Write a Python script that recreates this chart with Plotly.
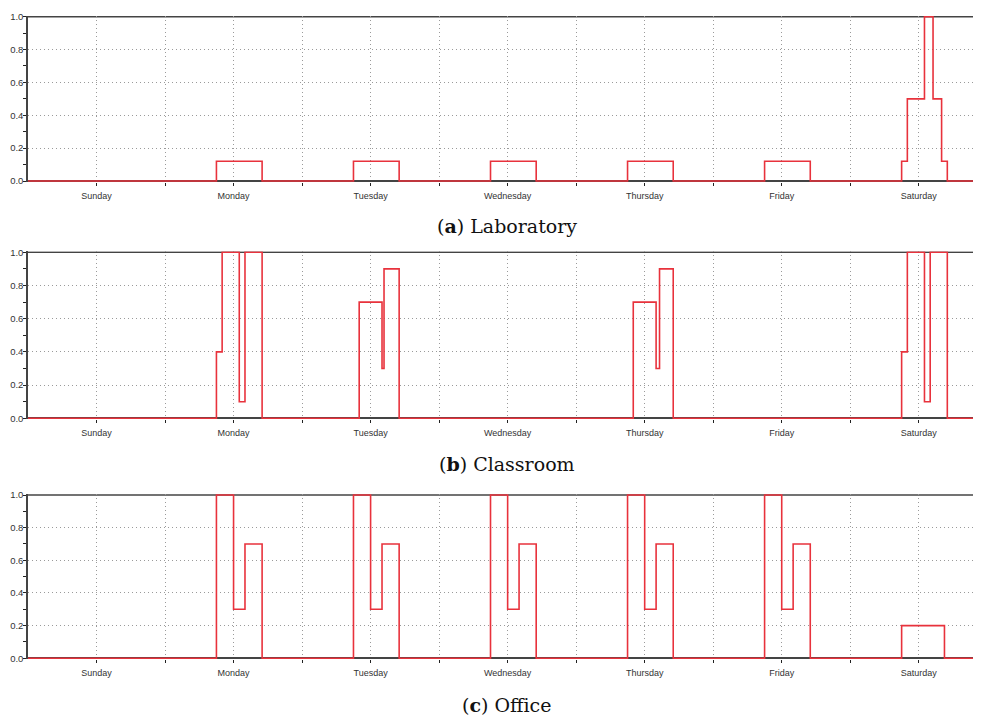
import plotly.graph_objects as go

# ---------------- data ----------------
days = ["Sunday", "Monday", "Tuesday", "Wednesday", "Thursday", "Friday", "Saturday"]
day_label_hours = [12, 36, 60, 84, 108, 132, 156]
midnight_hours = [24, 48, 72, 96, 120, 144]

# step breakpoints (hours from Sunday 00:00) and value from that time on
lab_hours = [0, 33, 41, 57, 65, 81, 89, 105, 113, 129, 137, 153, 154, 157, 158.5, 160, 161, 167]
lab_values = [0, 0.12, 0, 0.12, 0, 0.12, 0, 0.12, 0, 0.12, 0, 0.12, 0.5, 1.0, 0.5, 0.12, 0, 0]

class_hours = [0, 33, 34, 37, 38, 41, 58, 62, 62.35, 65, 106, 110, 110.6, 113,
               153, 154, 157, 158, 161, 167]
class_values = [0, 0.4, 1.0, 0.1, 1.0, 0, 0.7, 0.3, 0.9, 0, 0.7, 0.3, 0.9, 0,
                0.4, 1.0, 0.1, 1.0, 0, 0]

office_hours = [0, 33, 36, 38, 41, 57, 60, 62, 65, 81, 84, 86, 89,
                105, 108, 110, 113, 129, 132, 134, 137, 153, 160.5, 167]
office_values = [0, 1.0, 0.3, 0.7, 0, 1.0, 0.3, 0.7, 0, 1.0, 0.3, 0.7, 0,
                 1.0, 0.3, 0.7, 0, 1.0, 0.3, 0.7, 0, 0.2, 0, 0]

captions = ["(<b>a</b>) Laboratory", "(<b>b</b>) Classroom", "(<b>c</b>) Office"]
y_ticks = [0.0, 0.2, 0.4, 0.6, 0.8, 1.0]
y_ticktext = ["0.0", "0.2", "0.4", "0.6", "0.8", "1.0"]

# ---------------- figure ----------------
OFF = 8  # default page body margin
W, H = 981 - OFF, 725 - OFF
RED = "#e8323c"
XFONT = dict(family="Liberation Sans Narrow, Liberation Sans, Arial", size=9, color="#333")
YFONT = dict(family="Liberation Sans Narrow, Liberation Sans, Arial", size=9.5, color="#333")
GRID = "#9a9a9a"
DOT = "1px,3px"

# page-pixel positions of (1.0 line, 0.0 line) for each panel
panel_px = [(16.7, 181.0), (252.3, 418.3), (495.0, 658.3)]
caption_y_px = [226, 464, 705]
series = [(lab_hours, lab_values), (class_hours, class_values), (office_hours, office_values)]

fig = go.Figure()
layout = dict(
    width=W, height=H,
    margin=dict(l=28 - OFF, r=0, t=0, b=0, autoexpand=False),
    paper_bgcolor="white", plot_bgcolor="white",
    showlegend=False,
)

pad = 0.006
for i, ((top, bot), (hx, vy)) in enumerate(zip(panel_px, series)):
    n = i + 1
    xa = "x" if n == 1 else f"x{n}"
    ya = "y" if n == 1 else f"y{n}"
    pxu = (bot - top)
    d_top = 1 - (top - OFF - pad * pxu) / H
    d_bot = 1 - (bot - OFF + pad * pxu) / H
    fig.add_trace(go.Scatter(
        x=hx, y=vy, mode="lines", line=dict(color=RED, width=1.6, shape="hv"),
        xaxis=xa, yaxis=ya, hoverinfo="skip",
    ))
    xkey = "xaxis" if n == 1 else f"xaxis{n}"
    ykey = "yaxis" if n == 1 else f"yaxis{n}"
    layout[xkey] = dict(
        domain=[0, 1], anchor=ya, range=[0, 166.9], automargin=False,
        tickmode="array", tickvals=day_label_hours, ticktext=days,
        tickfont=XFONT, ticks="outside", ticklen=3, tickcolor="#222",
        ticklabelstandoff=2,
        showgrid=True, gridcolor=GRID, griddash=DOT, gridwidth=1,
        minor=dict(tickmode="array", tickvals=midnight_hours, ticks="outside",
                   ticklen=3, tickcolor="#222", showgrid=True,
                   gridcolor=GRID, griddash=DOT, gridwidth=1),
        showline=False, zeroline=False, fixedrange=True,
    )
    layout[ykey] = dict(
        domain=[d_bot, d_top], anchor=xa, range=[-pad, 1 + pad], automargin=False,
        tickmode="array", tickvals=y_ticks, ticktext=y_ticktext,
        tickfont=YFONT, ticks="outside", ticklen=3, tickcolor="#222",
        ticklabelstandoff=-2,
        showgrid=True, gridcolor=GRID, griddash=DOT, gridwidth=1,
        minor=dict(tickmode="array", tickvals=[0.1, 0.3, 0.5, 0.7, 0.9],
                   ticks="outside", ticklen=3, tickcolor="#222", showgrid=False),
        showline=True, linecolor="#444", linewidth=1.5,
        zeroline=True, zerolinecolor="#444", zerolinewidth=1.5,
        layer="below traces", fixedrange=True,
    )
    # solid top line at 1.0
    fig.add_shape(type="line", xref=f"{xa} domain", yref=ya, x0=0, x1=1, y0=1.0, y1=1.0,
                  line=dict(color="#444", width=1.5), layer="below")
    fig.add_annotation(
        text=captions[i], xref="paper", yref="paper",
        x=(497 - OFF) / W, y=1 - (caption_y_px[i] - OFF) / H, xanchor="center", yanchor="middle",
        showarrow=False, font=dict(family="DejaVu Serif, Liberation Serif, serif", size=19, color="#111"),
    )

fig.update_layout(**layout)
fig.write_html("out.html")
